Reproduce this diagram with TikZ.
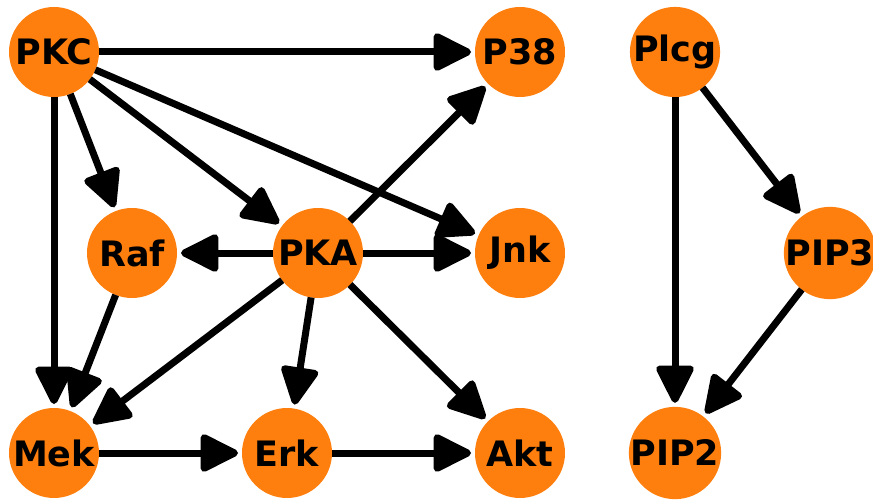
\documentclass[tikz,border=0pt]{standalone}
\usepackage{fontspec}
\setmainfont{DejaVu Sans}
\usetikzlibrary{arrows.meta}
\definecolor{nodeorange}{HTML}{FF7F0E}
\begin{document}
\begin{tikzpicture}[x=1pt,y=-1pt,
  vert/.style={circle,fill=nodeorange,minimum size=90pt,inner sep=0pt,outer sep=0pt,
    font=\fontsize{35}{38}\selectfont\bfseries},
  link/.style={line width=7pt,draw=black,shorten >=4pt,
    -{Triangle[length=42pt,width=40pt,round]}}]
\useasboundingbox (0,0) rectangle (873,500);
% nodes
\node[vert] (PKC)  at (54,52)   {PKC};
\node[vert] (P38)  at (520,52)  {P38};
\node[vert] (Plcg) at (675,52)  {Plcg};
\node[vert] (Raf)  at (132,253) {Raf};
\node[vert] (PKA)  at (318,253) {PKA};
\node[vert] (Jnk)  at (520,253) {Jnk};
\node[vert] (PIP3) at (830,253) {PIP3};
\node[vert] (Mek)  at (54,453)  {Mek};
\node[vert] (Erk)  at (287,453) {Erk};
\node[vert] (Akt)  at (520,453) {Akt};
\node[vert] (PIP2) at (675,453) {PIP2};
% edges
\draw[link] (PKC) -- (P38);
\draw[link] (PKC) -- (Raf);
\draw[link] (PKC) -- (PKA);
\draw[link] (PKC) -- (Jnk);
\draw[link] (PKC) -- (Mek);
\draw[link] (PKA) -- (P38);
\draw[link] (PKA) -- (Raf);
\draw[link] (PKA) -- (Jnk);
\draw[link] (PKA) -- (Mek);
\draw[link] (PKA) -- (Erk);
\draw[link] (PKA) -- (Akt);
\draw[link] (Raf) -- (Mek);
\draw[link] (Mek) -- (Erk);
\draw[link] (Erk) -- (Akt);
\draw[link] (Plcg) -- (PIP2);
\draw[link] (Plcg) -- (PIP3);
\draw[link] (PIP3) -- (PIP2);
\end{tikzpicture}
\end{document}
